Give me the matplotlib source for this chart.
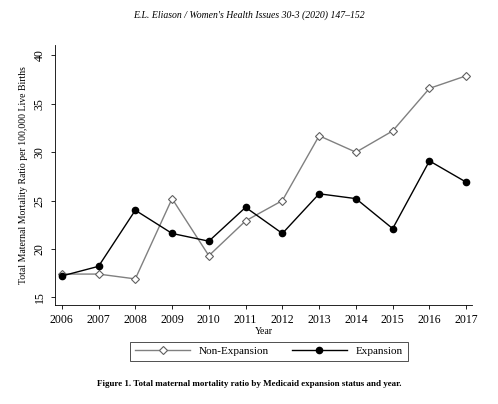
import matplotlib.pyplot as plt

years = list(range(2006, 2018))
non_expansion = [17.4, 17.4, 16.9, 25.2, 19.3, 22.9, 25.0, 31.7, 30.0, 32.2, 36.6, 37.9]
expansion = [17.2, 18.2, 24.0, 21.6, 20.8, 24.3, 21.6, 25.7, 25.2, 22.1, 29.1, 26.9]

plt.rcParams['font.family'] = ['Liberation Serif', 'DejaVu Serif']

fig = plt.figure(figsize=(4.98, 4.04), dpi=100)
ax = fig.add_axes([0.110, 0.245, 0.838, 0.644])

ax.plot(years, non_expansion, color='#808080', lw=1, marker='D', ms=4.5,
        mfc='white', mec='#606060', mew=0.8, label='Non-Expansion')
ax.plot(years, expansion, color='black', lw=1, marker='o', ms=4.5,
        label='Expansion')

ax.set_xlim(2005.81, 2017.16)
ax.set_ylim(14.2, 41.1)
ax.set_xticks(years)
ax.set_yticks([15, 20, 25, 30, 35, 40])
ax.tick_params(labelsize=8.5, length=3, width=0.6)
for lab in ax.get_yticklabels():
    lab.set_rotation(90)
    lab.set_va('center')
ax.spines['top'].set_visible(False)
ax.spines['right'].set_visible(False)
ax.spines['left'].set_linewidth(0.6)
ax.spines['bottom'].set_linewidth(0.6)
ax.set_xlabel('Year', fontsize=7, labelpad=1)
ax.set_ylabel('Total Maternal Mortality Ratio per 100,000 Live Births', fontsize=7)

leg = fig.legend(loc='center', bbox_to_anchor=(0.54, 0.13), ncol=2, fontsize=8,
                 frameon=True, fancybox=False, edgecolor='black', handlelength=5,
                 columnspacing=2.0)
leg.get_frame().set_linewidth(0.6)

fig.text(0.5, 0.955, 'E.L. Eliason / Women\'s Health Issues 30-3 (2020) 147–152',
         ha='center', fontsize=7, style='italic')
fig.text(0.5, 0.045, 'Figure 1. Total maternal mortality ratio by Medicaid expansion status and year.',
         ha='center', fontsize=6.5, fontweight='bold')

fig.savefig('out.png')
